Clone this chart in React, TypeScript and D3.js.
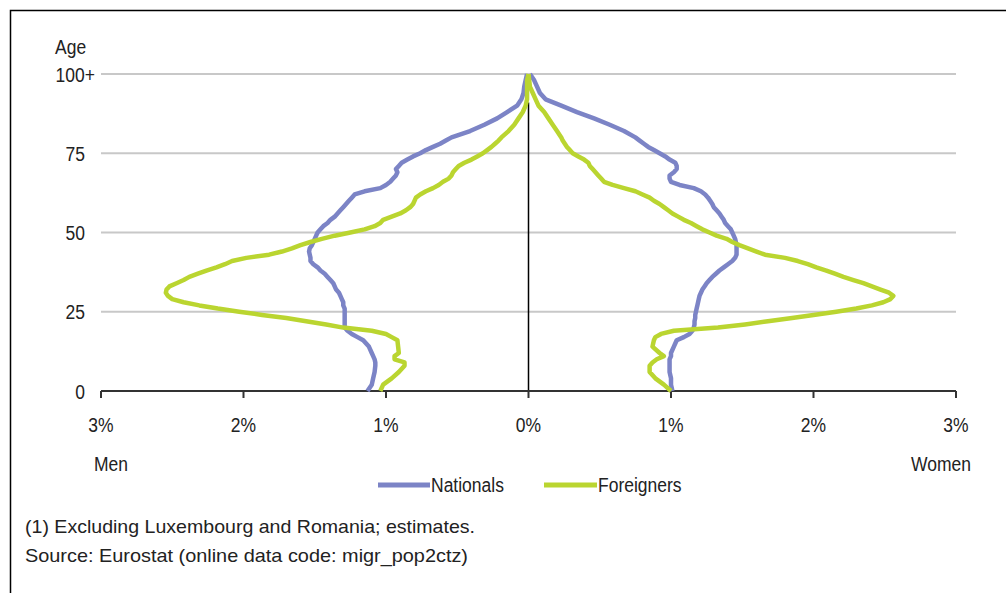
import React from "react";
import * as d3 from "d3";

const ages = [
  0, 2, 4, 6, 8, 9, 10, 11, 12, 14,
  16, 17, 18, 19, 20, 21, 22, 23, 24, 25,
  26, 27, 28, 29, 30, 31, 32, 33, 34, 35,
  36, 37, 38, 39, 40, 41, 42, 43, 44, 45,
  46, 47, 48, 49, 50, 51, 52, 53, 54, 55,
  56, 57, 58, 59, 60, 61, 62, 63, 64, 65,
  66, 67, 68, 69, 70, 71, 72, 73, 74, 75,
  76, 77, 78, 79, 80, 82, 84, 86, 88, 90,
  92, 94, 96, 98, 100,
];

// share of total population (%), men plotted to the left
const menNationals = [
  1.13, 1.1, 1.09, 1.08, 1.075, 1.075, 1.08, 1.09, 1.1, 1.12,
  1.16, 1.2, 1.24, 1.27, 1.29, 1.29, 1.29, 1.29, 1.29, 1.29,
  1.29, 1.3, 1.3, 1.31, 1.32, 1.33, 1.35, 1.36, 1.37, 1.39,
  1.41, 1.43, 1.46, 1.48, 1.51, 1.53, 1.53, 1.535, 1.54, 1.535,
  1.52, 1.51, 1.5, 1.49, 1.48, 1.46, 1.44, 1.41, 1.39, 1.36,
  1.34, 1.32, 1.3, 1.28, 1.26, 1.24, 1.22, 1.15, 1.04, 1.0,
  0.97, 0.95, 0.93, 0.92, 0.93, 0.91, 0.89, 0.85, 0.81, 0.76,
  0.72, 0.67, 0.62, 0.58, 0.54, 0.41, 0.31, 0.22, 0.15, 0.08,
  0.05, 0.035, 0.03, 0.02, 0.01,
];

const menForeigners = [
  1.04, 1.02, 0.96, 0.91, 0.87, 0.87, 0.94, 0.94, 0.91, 0.915,
  0.92, 0.96, 1.0, 1.1, 1.3, 1.42, 1.56, 1.7, 1.87, 2.03,
  2.18, 2.31, 2.42, 2.5, 2.53, 2.545, 2.54, 2.52, 2.47, 2.42,
  2.38, 2.32, 2.26, 2.19, 2.13, 2.08, 1.98, 1.82, 1.73, 1.66,
  1.6, 1.53, 1.45, 1.36, 1.25, 1.15, 1.08, 1.04, 1.02, 0.96,
  0.9, 0.86, 0.83, 0.81, 0.8, 0.79, 0.76, 0.72, 0.67, 0.63,
  0.6, 0.56, 0.54, 0.53, 0.51, 0.49, 0.45, 0.4, 0.36, 0.32,
  0.29, 0.26, 0.235, 0.21, 0.19, 0.14, 0.1, 0.07, 0.04, 0.02,
  0.01, 0.01, 0.01, 0.01, 0.0,
];

const womenNationals = [
  1.01, 1.0, 1.0, 0.99, 0.99, 0.99, 0.99, 1.0, 1.0, 1.02,
  1.04, 1.09, 1.13, 1.15, 1.16, 1.165, 1.165, 1.17, 1.17, 1.175,
  1.18, 1.185, 1.19, 1.195, 1.2, 1.21, 1.22, 1.235, 1.25, 1.27,
  1.29, 1.315, 1.34, 1.37, 1.4, 1.43, 1.45, 1.46, 1.46, 1.46,
  1.46, 1.455, 1.45, 1.44, 1.43, 1.42, 1.4, 1.38, 1.37, 1.355,
  1.34, 1.32, 1.3, 1.29, 1.275, 1.26, 1.24, 1.21, 1.16, 1.06,
  1.0, 0.99, 0.99, 1.02, 1.04, 1.04, 1.03, 0.99, 0.96, 0.92,
  0.88, 0.84, 0.81, 0.78, 0.75, 0.67, 0.57, 0.46, 0.34, 0.23,
  0.12, 0.08, 0.06, 0.04, 0.01,
];

const womenForeigners = [
  1.0, 0.95, 0.89, 0.85, 0.85, 0.87, 0.9, 0.95, 0.92, 0.87,
  0.88, 0.89, 0.93, 1.02, 1.33, 1.52, 1.68, 1.85, 2.0, 2.16,
  2.3, 2.41, 2.49, 2.54, 2.56, 2.53, 2.47, 2.41, 2.35, 2.28,
  2.21, 2.15, 2.09, 2.02, 1.96, 1.89, 1.8, 1.66, 1.6, 1.54,
  1.48, 1.43, 1.39, 1.32, 1.27, 1.22, 1.18, 1.14, 1.09, 1.05,
  1.01, 0.98, 0.95, 0.92, 0.88, 0.85, 0.8, 0.75, 0.67, 0.59,
  0.53, 0.51, 0.49, 0.47, 0.45, 0.43, 0.42, 0.39, 0.35, 0.31,
  0.29, 0.27, 0.255, 0.24, 0.23, 0.2, 0.17, 0.14, 0.11, 0.07,
  0.05, 0.03, 0.01, 0.005, 0.0,
];

const ageTicks = [0, 25, 50, 75, 100];
const ageTickLabels = ["0", "25", "50", "75", "100+"];
const pctTicks = [-3, -2, -1, 0, 1, 2, 3];
const pctTickLabels = ["3%", "2%", "1%", "0%", "1%", "2%", "3%"];
const seriesNames = ["Nationals", "Foreigners"];

const width = 1006;
const height = 593;
const font = "'Liberation Sans', Arial, sans-serif";
const textColor = "#222";
const blue = "#7c84c6";
const green = "#bad530";

// the source text is rendered a bit taller than plain Arial
const Label: React.FC<{
  x: number;
  y: number;
  anchor?: "start" | "middle" | "end";
  size?: number;
  children: React.ReactNode;
}> = ({ x, y, anchor = "start", size = 17.5, children }) => (
  <text
    transform={`translate(${x},${y}) scale(1,1.2)`}
    textAnchor={anchor}
    fontSize={size}
    fontFamily={font}
    fill={textColor}
  >
    {children}
  </text>
);

const App: React.FC = () => {
  const x = d3.scaleLinear().domain([-3, 3]).range([101, 956]);
  const y = d3.scaleLinear().domain([0, 100]).range([391, 74]);

  const makeLine = (sign: number) =>
    d3
      .line<number>()
      .x((v) => x(sign * v))
      .y((_, i) => y(ages[i]));

  const paths = [
    { d: makeLine(-1)(menNationals), color: blue },
    { d: makeLine(1)(womenNationals), color: blue },
    { d: makeLine(-1)(menForeigners), color: green },
    { d: makeLine(1)(womenForeigners), color: green },
  ];

  return (
    <svg
      width={width}
      height={height}
      style={{ position: "absolute", left: 0, top: 0, background: "#fff" }}
    >
      {/* frame */}
      <path d={`M10.5,${height} V10.5 H${width}`} fill="none" stroke="#000" strokeWidth={1.5} />

      {/* grid */}
      {ageTicks
        .filter((a) => a > 0)
        .map((a) => (
          <line
            key={a}
            x1={x(-3)}
            x2={x(3)}
            y1={y(a)}
            y2={y(a)}
            stroke="#c8c8c8"
            strokeWidth={2}
          />
        ))}

      {/* vertical 0% axis */}
      <line x1={x(0)} x2={x(0)} y1={y(91)} y2={y(0)} stroke="#000" strokeWidth={1.5} />

      {/* horizontal axis with ticks */}
      <line x1={x(-3)} x2={x(3)} y1={y(0)} y2={y(0)} stroke="#333" strokeWidth={2} />
      {pctTicks.map((t) => (
        <line
          key={t}
          x1={x(t)}
          x2={x(t)}
          y1={y(0)}
          y2={y(0) + 7}
          stroke="#333"
          strokeWidth={2}
        />
      ))}

      {paths.map((p, i) => (
        <path
          key={i}
          d={p.d ?? ""}
          fill="none"
          stroke={p.color}
          strokeWidth={4.5}
          strokeLinejoin="round"
        />
      ))}

      {/* labels */}
      <Label x={55} y={54}>Age</Label>
      {ageTicks.map((a, i) => (
        <Label
          key={a}
          x={ageTickLabels[i].endsWith("+") ? 95 : 85}
          y={y(a) + 7.5}
          anchor="end"
        >
          {ageTickLabels[i]}
        </Label>
      ))}
      {pctTicks.map((t, i) => (
        <Label key={t} x={x(t)} y={432} anchor="middle">
          {pctTickLabels[i]}
        </Label>
      ))}
      <Label x={94} y={471}>Men</Label>
      <Label x={971} y={471} anchor="end">Women</Label>

      {/* legend */}
      <line x1={378} x2={430} y1={485} y2={485} stroke={blue} strokeWidth={5} />
      <Label x={431} y={492}>{seriesNames[0]}</Label>
      <line x1={544} x2={597} y1={485} y2={485} stroke={green} strokeWidth={5} />
      <Label x={598} y={492}>{seriesNames[1]}</Label>

      {/* notes */}
      <text
        x={25}
        y={533}
        fontSize={18.5}
        fontFamily={font}
        fill={textColor}
        textLength={450}
        lengthAdjust="spacingAndGlyphs"
      >
        (1) Excluding Luxembourg and Romania; estimates.
      </text>
      <text
        x={25}
        y={562}
        fontSize={18.5}
        fontFamily={font}
        fill={textColor}
        textLength={443}
        lengthAdjust="spacingAndGlyphs"
      >
        Source: Eurostat (online data code: migr_pop2ctz)
      </text>
    </svg>
  );
};

export default App;
